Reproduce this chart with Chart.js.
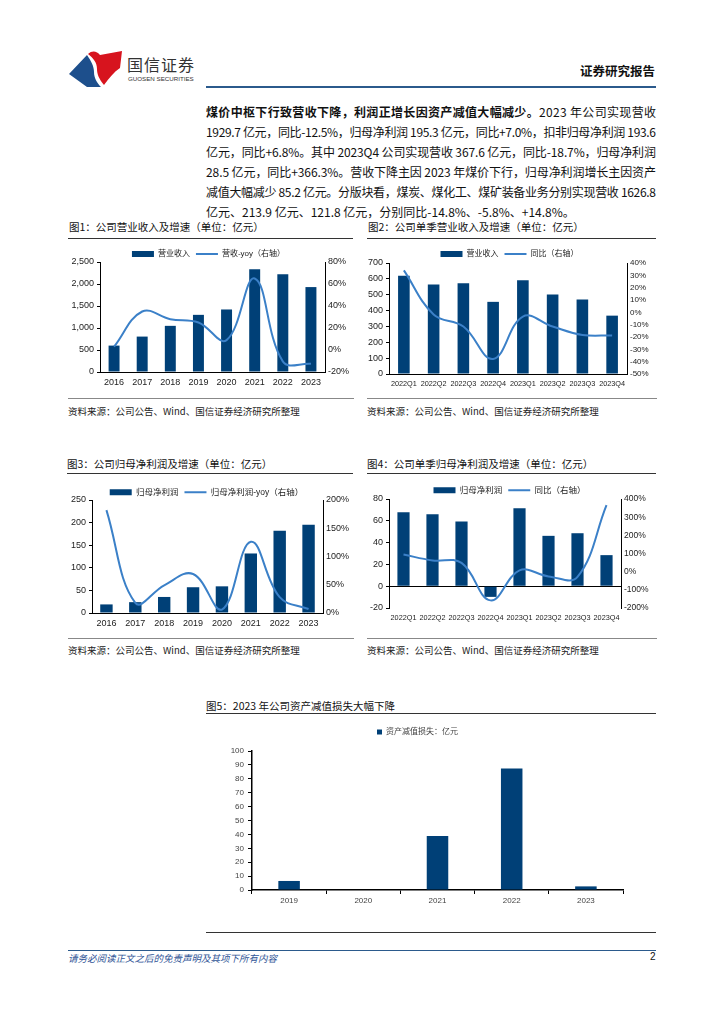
<!DOCTYPE html>
<html><head><meta charset="utf-8">
<script src="https://cdn.jsdelivr.net/npm/chart.js@4.4.1/dist/chart.umd.min.js"></script>
<style>
html,body{margin:0;padding:0;background:#fff}
body{width:724px;height:1024px;position:relative;overflow:hidden;font-family:"Noto Sans CJK SC","Liberation Sans",sans-serif;color:#111}
.a{position:absolute;white-space:nowrap}
.hl{position:absolute;height:0}
.para{position:absolute;left:206px;top:102px;width:450px;font-size:12px;line-height:20px;color:#111}
.para div{white-space:nowrap;height:20px}
.ttl{position:absolute;font-size:10.5px;color:#111;white-space:nowrap}
.src{position:absolute;font-size:9.5px;color:#222;white-space:nowrap}
.cv{position:absolute}
</style></head>
<body>
<svg class="a" style="left:68px;top:50px" width="56" height="38" viewBox="0 0 56 38">
  <path d="M1 24 L19 5 C23 11 26 16 26 22 C26 28 29 33 33 37 L19 37 Z" fill="#1d4f8c"/>
  <path d="M20 4 C24 0 29 1 32 5 L54 1 L52 18 C46 22 41 28 36 35 C31 29 29 24 29 19 C29 12 25 8 20 4 Z" fill="#d7141e"/>
</svg>
<div class="a" style="left:127px;top:52px;font-size:16px;color:#333;letter-spacing:1px">国信证券</div>
<div class="a" style="left:128px;top:75px;font-size:6.2px;color:#333;font-family:'Liberation Sans'">GUOSEN SECURITIES</div>
<div class="a" style="left:580px;top:61px;font-size:12.5px;font-weight:bold;color:#111">证券研究报告</div>
<div class="hl" style="left:206px;top:86px;width:450px;border-top:2.5px solid #2b5a8c"></div>

<div class="para" id="para">
<div class="j"><b>煤价中枢下行致营收下降，利润正增长因资产减值大幅减少。</b>2023 年公司实现营收</div>
<div class="j">1929.7 亿元，同比-12.5%，归母净利润 195.3 亿元，同比+7.0%，扣非归母净利润 193.6</div>
<div class="j">亿元，同比+6.8%。其中 2023Q4 公司实现营收 367.6 亿元，同比-18.7%，归母净利润</div>
<div class="j">28.5 亿元，同比+366.3%。营收下降主因 2023 年煤价下行，归母净利润增长主因资产</div>
<div class="j">减值大幅减少 85.2 亿元。分版块看，煤炭、煤化工、煤矿装备业务分别实现营收 1626.8</div>
<div>亿元、213.9 亿元、121.8 亿元，分别同比-14.8%、-5.8%、+14.8%。</div>
</div>

<div class="ttl" style="left:69px;top:219px">图1：公司营业收入及增速（单位：亿元）</div>
<div class="hl" style="left:68px;top:238px;width:285px;border-top:1px solid #333"></div>
<div class="ttl" style="left:368px;top:219px">图2：公司单季营业收入及增速（单位：亿元）</div>
<div class="hl" style="left:367px;top:238px;width:289px;border-top:1px solid #333"></div>
<div class="cv" style="left:62px;top:244px;width:293px;height:146px"><canvas id="c1"></canvas></div>
<div class="cv" style="left:362px;top:244px;width:295px;height:148px"><canvas id="c2"></canvas></div>
<div class="hl" style="left:68px;top:398px;width:286px;border-top:1.5px solid #888"></div>
<div class="hl" style="left:367px;top:398px;width:290px;border-top:1.5px solid #888"></div>
<div class="src" style="left:68px;top:404px">资料来源：公司公告、Wind、国信证券经济研究所整理</div>
<div class="src" style="left:367px;top:404px">资料来源：公司公告、Wind、国信证券经济研究所整理</div>

<div class="ttl" style="left:67px;top:456px">图3：公司归母净利润及增速（单位：亿元）</div>
<div class="hl" style="left:67px;top:473px;width:286px;border-top:1px solid #333"></div>
<div class="ttl" style="left:367px;top:456px">图4：公司单季归母净利润及增速（单位：亿元）</div>
<div class="hl" style="left:367px;top:473px;width:289px;border-top:1px solid #333"></div>
<div class="cv" style="left:58px;top:482px;width:297px;height:149px"><canvas id="c3"></canvas></div>
<div class="cv" style="left:362px;top:480px;width:295px;height:146px"><canvas id="c4"></canvas></div>
<div class="hl" style="left:68px;top:638px;width:286px;border-top:1.5px solid #888"></div>
<div class="hl" style="left:367px;top:638px;width:290px;border-top:1.5px solid #888"></div>
<div class="src" style="left:68px;top:643px">资料来源：公司公告、Wind、国信证券经济研究所整理</div>
<div class="src" style="left:367px;top:643px">资料来源：公司公告、Wind、国信证券经济研究所整理</div>

<div class="ttl" style="left:206px;top:698px">图5：2023 年公司资产减值损失大幅下降</div>
<div class="hl" style="left:206px;top:713px;width:450px;border-top:1px solid #333"></div>
<div class="cv" style="left:212px;top:722px;width:440px;height:188px"><canvas id="c5"></canvas></div>

<div class="hl" style="left:206px;top:932px;width:450px;border-top:1.5px solid #333"></div>
<div class="hl" style="left:68px;top:950px;width:588px;border-top:1px solid #2b5a8c"></div>
<div class="a" style="left:68px;top:951px;font-size:9.5px;font-style:italic;color:#2f5496">请务必阅读正文之后的免责声明及其项下所有内容</div>
<div class="a" style="left:650px;top:951px;font-size:10px;color:#111;font-family:'Liberation Sans'">2</div>

<script>
// justify paragraph lines
document.querySelectorAll('#para .j').forEach(function(d){
  var n = d.textContent.length - 1;
  var r = document.createRange(); r.selectNodeContents(d);
  var nat = r.getBoundingClientRect().width;
  d.style.letterSpacing = ((450 - nat) / n) + 'px';
});

const BAR = '#004077', LINE = '#3b80c8';
Chart.defaults.font.family = "'Liberation Sans','Noto Sans CJK SC',sans-serif";
Chart.defaults.color = '#222';
Chart.defaults.animation = false;

const annualYears = ['2016','2017','2018','2019','2020','2021','2022','2023'];
const annualRevenue = [600, 805, 1049, 1299, 1421, 2333, 2219, 1930];
const annualRevenueYoy = [3, 35, 28, 25, 9, 65, -10.3, -12.5];
const quarters = ['2022Q1','2022Q2','2022Q3','2022Q4','2023Q1','2023Q2','2023Q3','2023Q4'];
const quarterRevenue = [620, 565, 573, 455, 592, 502, 470, 368];
const quarterRevenueYoy = [34, -1.7, -11.5, -37.8, -3.4, -11.5, -18.3, -18.7];
const annualProfit = [19, 24, 35.5, 57, 59, 131.7, 182, 195.3];
const annualProfitYoy = [182, 18, 49, 69, 6, 126, 28, 7];
const quarterProfit = [67.9, 66, 59.3, -9.8, 71.6, 46.2, 48.6, 28.5];
const quarterProfitYoy = [94, 62, 48, -158, 7, -26, -29, 366];
const impairYears = ['2019','2020','2021','2022','2023'];
const impairLoss = [6.5, 0, 38.8, 87.5, 2.6];

function legendHeight(h){
  return {id:'legH', beforeInit(chart){
    const f = chart.legend.fit;
    chart.legend.fit = function(){ f.call(this); this.height = h; };
  }};
}
const comma = v => v.toLocaleString('en-US');
const pct = v => v + '%';

function combo(id, o){
  return new Chart(document.getElementById(id), {
    data: {labels: o.labels, datasets: [
      {type:'bar', label:o.barLabel, data:o.bars, backgroundColor:BAR, yAxisID:'y', order:2,
       barPercentage:o.bp, categoryPercentage:1},
      {type:'line', label:o.lineLabel, data:o.line, borderColor:LINE, borderWidth:2, pointRadius:0,
       tension:0.4, yAxisID:'y1', order:1}
    ]},
    options: {
      responsive:true, maintainAspectRatio:false, events:[],
      layout:{padding:0},
      plugins:{
        tooltip:{enabled:false},
        legend:{display:true, labels:{usePointStyle:true, pointStyleWidth:22, boxHeight:6, padding:6,
          font:{size:o.legFont}, color:'#222',
          generateLabels(chart){
            return chart.data.datasets.map((ds,i)=>({
              text: ds.label, datasetIndex:i, hidden:false, fontColor:'#222',
              fillStyle: ds.type==='bar' ? BAR : 'rgba(0,0,0,0)',
              strokeStyle: ds.type==='bar' ? BAR : LINE,
              lineWidth: ds.type==='bar' ? 0 : 2,
              pointStyle: ds.type==='bar' ? 'rect' : 'line'
            }));
          },
          sort:(a,b)=>a.datasetIndex-b.datasetIndex}}
      },
      scales:{
        x:{grid:{display:false, drawTicks:false}, border:{display:!o.zeroLine, color:'#000', width:1},
           ticks:{font:{size:o.xFont}, padding:o.xPad, maxRotation:0, autoSkip:false, color:'#222'},
           afterFit:s=>{s.height = o.xH;}},
        y:{position:'left', min:o.y[0], max:o.y[1], ticks:{stepSize:o.y[2], callback:o.yFmt, font:{size:9}, padding:3, color:'#222', autoSkip:false},
           grid:{drawOnChartArea:!!o.zeroLine, tickLength:3, tickColor:'#000',
                 color: c => (o.zeroLine && c.tick && c.tick.value===0) ? '#000' : 'rgba(0,0,0,0)'},
           border:{display:true, color:'#000', width:1},
           afterFit:s=>{s.width = o.yW;}},
        y1:{position:'right', min:o.y1[0], max:o.y1[1], ticks:{stepSize:o.y1[2], callback:pct, font:{size:o.y1Font||9}, padding:3, color:'#222', autoSkip:false},
           grid:{display:false, drawTicks:false}, border:{display:true, color:'#000', width:1},
           afterFit:s=>{s.width = o.y1W;}}
      }
    },
    plugins:[legendHeight(o.legH)]
  });
}

combo('c1', {labels:annualYears, bars:annualRevenue, line:annualRevenueYoy, barLabel:'营业收入', lineLabel:'营收-yoy（右轴）',
  bp:0.39, legFont:8, legH:18, xFont:9, xPad:5, xH:18, y:[0,2500,500], yFmt:comma, y1:[-20,80,20], yW:38, y1W:30});
combo('c2', {labels:quarters, bars:quarterRevenue, line:quarterRevenueYoy, barLabel:'营业收入', lineLabel:'同比（右轴）',
  bp:0.39, legFont:8, legH:19, xFont:7.3, xPad:6, xH:18, y:[0,700,100], yFmt:v=>v, y1:[-50,40,10], y1Font:8, yW:27, y1W:30});
combo('c3', {labels:annualYears, bars:annualProfit, line:annualProfitYoy, barLabel:'归母净利润', lineLabel:'归母净利润-yoy（右轴）',
  bp:0.43, legFont:8.5, legH:18, xFont:9, xPad:5, xH:18, y:[0,250,50], yFmt:v=>v, y1:[0,200,50], yW:34, y1W:32});
combo('c4', {labels:quarters, bars:quarterProfit, line:quarterProfitYoy, barLabel:'归母净利润', lineLabel:'同比（右轴）',
  bp:0.42, legFont:8.5, legH:19, xFont:7.3, xPad:6, xH:18, y:[-20,80,20], yFmt:v=>v, y1:[-200,400,100], y1Font:8.5, yW:27, y1W:36, zeroLine:true});

new Chart(document.getElementById('c5'), {
  type:'bar',
  data:{labels:impairYears, datasets:[{label:'资产减值损失：亿元', data:impairLoss, backgroundColor:BAR,
    barPercentage:0.29, categoryPercentage:1}]},
  options:{
    responsive:true, maintainAspectRatio:false, events:[],
    layout:{padding:{right:29}},
    plugins:{tooltip:{enabled:false},
      legend:{labels:{usePointStyle:true, pointStyle:'rect', boxHeight:5, boxWidth:5, padding:6, font:{size:8}, color:'#444'}}},
    scales:{
      x:{grid:{display:true, drawOnChartArea:false, offset:true, tickLength:4, color:'#000'},
         border:{display:true, color:'#000', width:1.5},
         ticks:{font:{size:8}, padding:2, color:'#444', maxRotation:0}, afterFit:s=>{s.height=20;}},
      y:{min:0, max:100, ticks:{stepSize:10, font:{size:8}, padding:4, color:'#444'},
         grid:{display:true, drawOnChartArea:false, tickLength:4, color:'#000'},
         border:{display:true, color:'#000', width:1.5}, afterFit:s=>{s.width=40;}}
    }
  },
  plugins:[legendHeight(29)]
});
</script>
</body></html>
